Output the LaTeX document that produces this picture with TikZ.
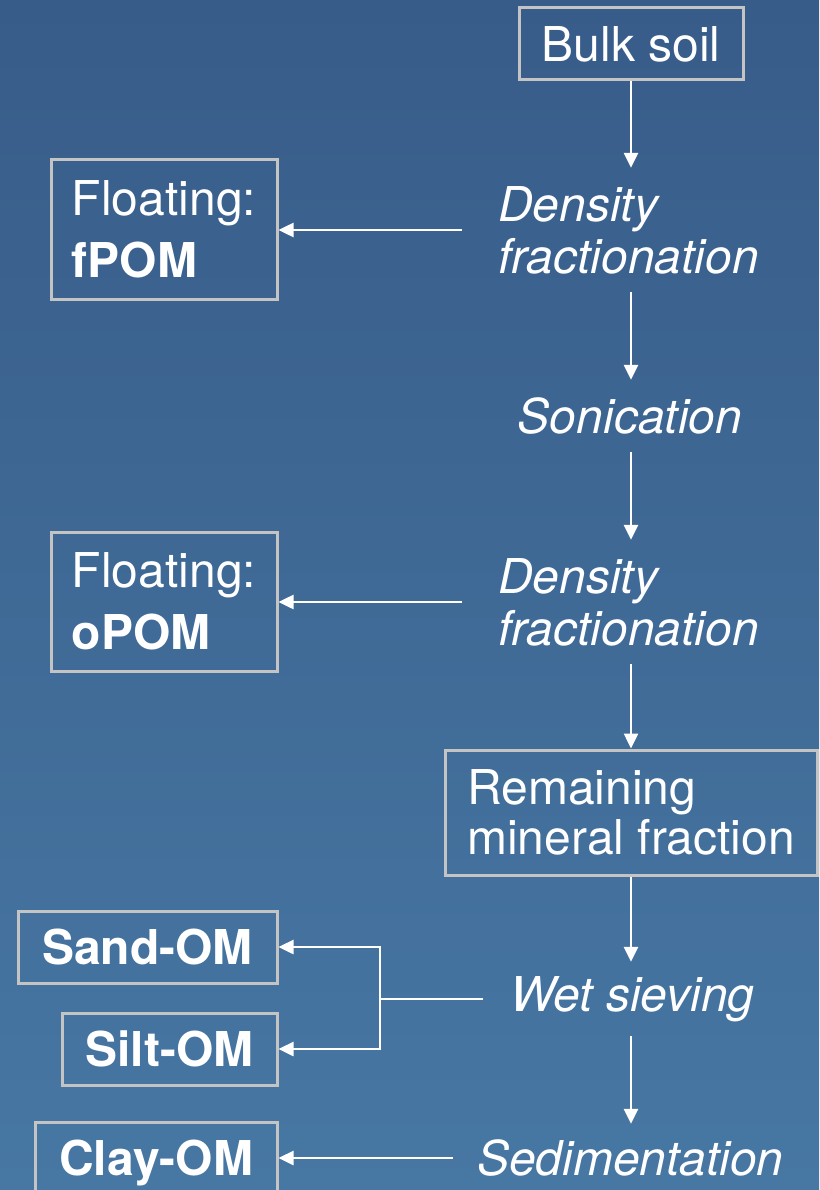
\documentclass[tikz,border=0pt]{standalone}
\usepackage{fontspec}
\setmainfont{TeX Gyre Heros}
\usetikzlibrary{arrows.meta}
\definecolor{bgtop}{HTML}{385C89}
\definecolor{bgbot}{HTML}{4777A3}
\definecolor{boxline}{HTML}{C4C4C4}

\begin{document}
\begin{tikzpicture}[x=1pt,y=-1pt,
  every node/.style={text=white,font=\fontsize{48}{52}\selectfont},
  box/.style={draw=boxline,line width=3pt,inner sep=0pt},
  boldbox/.style={box,font=\fontsize{48}{52}\selectfont\bfseries,minimum height=72pt,text height=35pt,text depth=0pt},
  proc/.style={font=\fontsize{48}{52}\selectfont\itshape,align=left,inner ysep=0pt},
  link/.style={draw=white,line width=2.5pt},
  arr/.style={link,-{Triangle[length=15pt,width=14pt]}}]
            % Background
            \useasboundingbox (0,0) rectangle (819,1190);
            \shade[top color=bgtop,bottom color=bgbot] (0,0) rectangle (819,1190);

            % Main steps
            \node[box,minimum width=224pt,minimum height=72pt] (bulk) at (631,44) {Bulk soil};
            \node[proc,anchor=west,inner xsep=36pt,minimum height=124pt] (dens1) at (462,230) {Density\\fractionation};
            \node[proc,minimum height=72pt] (son) at (630,416) {Sonication};
            \node[proc,anchor=west,inner xsep=36pt,minimum height=124pt] (dens2) at (462,602) {Density\\fractionation};
            \node[box,minimum width=372pt,minimum height=125pt,align=left,font=\fontsize{48}{50}\selectfont] (remain) at (631,812.5) {Remaining\\mineral fraction};
            \node[proc,anchor=west,inner xsep=27pt,minimum height=74pt] (wet) at (483,999) {Wet sieving};
            \node[proc,anchor=west,inner xsep=24pt,minimum height=68pt] (sed) at (453,1158) {Sedimentation};

            % Fractions
            \node[box,minimum width=226pt,minimum height=139pt,align=left,font=\fontsize{48}{62}\selectfont] (fpom) at (164,229.5) {Floating:\\\textbf{fPOM}};
            \node[box,minimum width=226pt,minimum height=139pt,align=left,font=\fontsize{48}{62}\selectfont] (opom) at (164,601.5) {Floating:\\\textbf{oPOM}};
            \node[boldbox,minimum width=259pt] (sand) at (147.5,947) {Sand-OM};
            \node[boldbox,minimum width=215pt] (silt) at (169.5,1049) {Silt-OM};
            \node[boldbox,minimum width=242pt] (clay) at (156,1158) {Clay-OM};

            % Vertical arrows
            \draw[arr] (bulk.south) -- (bulk.south |- dens1.north);
            \draw[arr] (bulk.south |- dens1.south) -- (bulk.south |- son.north);
            \draw[arr] (bulk.south |- son.south) -- (bulk.south |- dens2.north);
            \draw[arr] (bulk.south |- dens2.south) -- (remain.north);
            \draw[arr] (remain.south) -- (remain.south |- wet.north);
            \draw[arr] (remain.south |- wet.south) -- (remain.south |- sed.north);

            % Side arrows
            \draw[arr] (dens1.west) -- (dens1.west -| fpom.east);
            \draw[arr] (dens2.west) -- (dens2.west -| opom.east);
            \coordinate (fork) at (380,999);
            \draw[link] (wet.west) -- (fork);
            \draw[arr] (fork) |- (sand.east);
            \draw[arr] (fork) |- (silt.east);
            \draw[arr] (sed.west) -- (clay.east);
\end{tikzpicture}
\end{document}
